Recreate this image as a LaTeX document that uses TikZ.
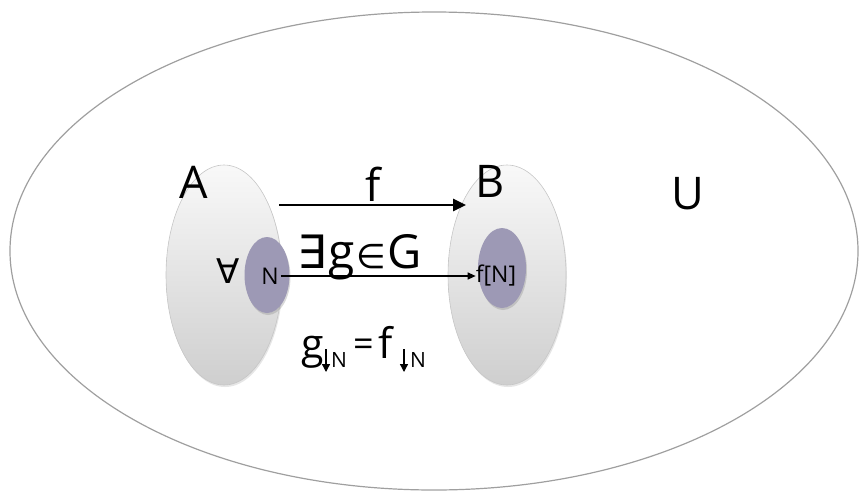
\documentclass[tikz,border=0pt]{standalone}
\usepackage{fontspec}
\setmainfont{Open Sans}
\newfontfamily\symf{DejaVu Sans}
\usetikzlibrary{shapes.geometric,arrows.meta,shadows}
\definecolor{subfill}{HTML}{9D99B5}
\begin{document}
\begin{tikzpicture}[x=1pt,y=-1pt,
  setbox/.style={ellipse, draw=gray!45, line width=0.6pt, top color=gray!5, bottom color=gray!38, inner sep=0pt,
    drop shadow={shadow xshift=1pt, shadow yshift=-2pt, opacity=0.2}},
  subbox/.style={ellipse, fill=subfill, draw=none, inner sep=0pt,
    drop shadow={shadow xshift=1pt, shadow yshift=-2pt, opacity=0.3}},
  big/.style={font=\fontsize{45}{45}\selectfont, inner sep=0pt},
  small/.style={font=\fontsize{23}{23}\selectfont, inner sep=0pt},
  sub/.style={font=\fontsize{21}{21}\selectfont, inner sep=0pt, anchor=base west},
  restr/.style={font=\fontsize{41}{41}\selectfont, inner sep=0pt, anchor=base west},
  subarrow/.style={line width=1.3pt, -{Triangle[length=8pt,width=8pt]}}]
\useasboundingbox (0,0) rectangle (862,496);
\node[ellipse, draw=gray!75, line width=1.2pt, minimum width=848pt, minimum height=478pt] (U) at (434,251) {};
\node[setbox, minimum width=116pt, minimum height=220pt] (A) at (224,275) {};
\node[setbox, minimum width=118pt, minimum height=220pt] (B) at (507,275) {};
\node[subbox, minimum width=45pt, minimum height=76pt] (N) at (267,275) {};
\node[subbox, minimum width=48pt, minimum height=80pt] (FN) at (502,268) {};
\node[big] (Alab) at (194,182) {A};
\node[big] (Blab) at (490,181) {B};
\node[big] (Ulab) at (688,194) {U};
\node[big] (flab) at (373,184) {f};
\coordinate (f1) at (279,205);
\coordinate (f2) at (466,205);
\draw[line width=2.6pt, -{Triangle[length=13pt,width=12pt]}] (f1) -- (f2);
\node[font=\symf\fontsize{34}{34}\selectfont, inner sep=0pt] (forall) at (228,271) {∀};
\node[small] (Ntext) at (270,276) {N};
\node[small] (fNtext) at (496,276) {f[N]};
\draw[line width=1.2pt, -{Triangle[length=8pt,width=7pt]}] (Ntext.east) ++(2pt,0) -- (fNtext.west);
\node[inner sep=0pt, anchor=base] (exists) at (360,268) {{\symf\fontsize{46}{46}\selectfont ∃}\,{\fontsize{48}{48}\selectfont g}\,{\symf\fontsize{34}{34}\selectfont ∈}\,{\fontsize{47}{47}\selectfont G}};
% restriction g|N = f|N
\node[restr] (g1) at (301,358) {g};
\coordinate (a1s) at (326,349);
\coordinate (a1e) at (326,372);
\draw[subarrow] (a1s) -- (a1e);
\node[sub] (N1) at (331,367) {N};
\node[restr, font=\fontsize{36}{36}\selectfont] (eq) at (353,356) {=};
\node[restr, font=\fontsize{42}{42}\selectfont] (f3) at (378,358) {f};
\coordinate (a2s) at (404,349);
\coordinate (a2e) at (404,372);
\draw[subarrow] (a2s) -- (a2e);
\node[sub] (N2) at (410,367) {N};
\end{tikzpicture}
\end{document}
